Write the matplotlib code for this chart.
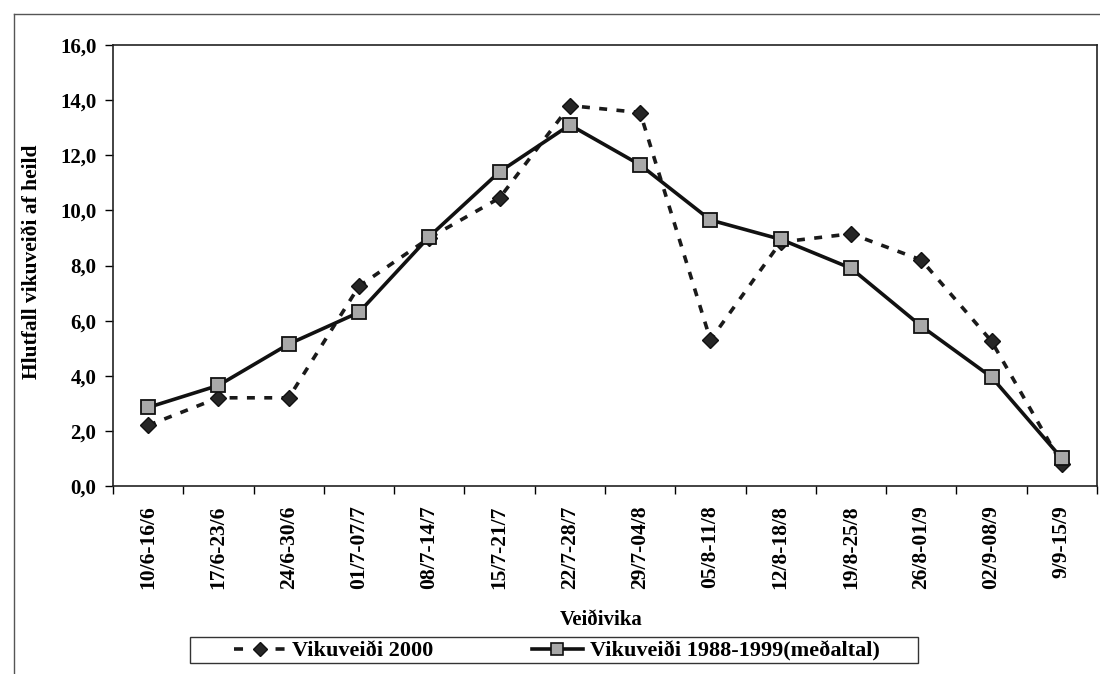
import matplotlib
matplotlib.use("Agg")
import matplotlib.pyplot as plt
from matplotlib.lines import Line2D
from matplotlib.patches import Rectangle
from matplotlib.ticker import FuncFormatter, FixedLocator

weeks = ["10/6-16/6", "17/6-23/6", "24/6-30/6", "01/7-07/7", "08/7-14/7",
         "15/7-21/7", "22/7-28/7", "29/7-04/8", "05/8-11/8", "12/8-18/8",
         "19/8-25/8", "26/8-01/9", "02/9-08/9", "9/9-15/9"]
catch_2000 = [2.2, 3.2, 3.2, 7.25, 9.0, 10.45, 13.8, 13.55, 5.3, 8.85, 9.15, 8.2, 5.25, 0.8]
catch_avg = [2.85, 3.65, 5.15, 6.3, 9.05, 11.4, 13.1, 11.65, 9.65, 8.95, 7.9, 5.8, 3.95, 1.0]
label_2000 = "Vikuveiði 2000"
label_avg = "Vikuveiði 1988-1999(meðaltal)"
y_ticks = [0, 2, 4, 6, 8, 10, 12, 14, 16]

plt.rcParams['font.family'] = ['Liberation Serif', 'DejaVu Serif']

W, H = 1100, 674
fig = plt.figure(figsize=(11, 6.74), dpi=100)
L, R, T, B = 113, 1097, 45, 486
ax = fig.add_axes([L/W, 1-B/H, (R-L)/W, (B-T)/H])

x = list(range(len(weeks)))
ax.plot(x, catch_2000, linestyle=(0, (2.2, 2.6)), color='#1a1a1a', linewidth=2.6,
        marker='D', markersize=8, markerfacecolor='#262626', markeredgecolor='#111111',
        label=label_2000, zorder=3)
ax.plot(x, catch_avg, linestyle='-', color='#111111', linewidth=2.6,
        marker='s', markersize=10.5, markerfacecolor='#a8a8a8', markeredgecolor='#111111',
        markeredgewidth=1.3, label=label_avg, zorder=4)

ax.set_xlim(-0.5, len(weeks) - 0.5)
ax.set_ylim(0, 16)
ax.set_yticks(y_ticks)
ax.yaxis.set_major_formatter(FuncFormatter(lambda v, p: f"{v:.1f}".replace('.', ',')))
ax.set_xticks(x)
ax.set_xticklabels(weeks, rotation=90, fontsize=15.5, fontweight='bold')
ax.xaxis.set_minor_locator(FixedLocator([i - 0.5 for i in range(len(weeks) + 1)]))
ax.tick_params(axis='x', which='major', length=0, pad=14)
ax.tick_params(axis='x', which='minor', length=6, width=1, direction='out')
ax.tick_params(axis='y', which='major', length=6, width=1, direction='out', labelsize=15, pad=6)
for lab in ax.get_yticklabels():
    lab.set_fontweight('bold')

for s in ax.spines.values():
    s.set_linewidth(1.2)
    s.set_color('#222222')

ax.set_ylabel("Hlutfall vikuveiði af heild", fontsize=15.5, fontweight='bold')
ax.yaxis.set_label_coords((42 - L)/(R - L), (B - 262)/(B - T))
ax.set_xlabel("Veiðivika", fontsize=15, fontweight='bold')
ax.xaxis.set_label_coords((601 - L)/(R - L), -(610 - B)/(B - T))
ax.xaxis.label.set_va('top')

# legend box
fig.add_artist(Rectangle((190/W, 1-663/H), (918-190)/W, 26/H, transform=fig.transFigure,
                         fill=False, edgecolor='#333333', linewidth=1.0))
h2000 = Line2D([], [], linestyle=(0, (2.5, 9.0)), color='#1a1a1a', linewidth=2.6,
               marker='D', markersize=7, markerfacecolor='#262626', markeredgecolor='#111111')
havg = Line2D([], [], linestyle='-', color='#111111', linewidth=2.6,
              marker='s', markersize=9, markerfacecolor='#a8a8a8', markeredgecolor='#111111',
              markeredgewidth=1.2)
leg = fig.legend([h2000, havg], [label_2000, label_avg], loc='center left',
                 bbox_to_anchor=(234/W, 1-651/H), ncol=2, frameon=False,
                 prop={'size': 16, 'weight': 'bold'}, handlelength=2.3, handletextpad=0.3,
                 borderpad=0, borderaxespad=0, columnspacing=4.45)

fig.add_artist(Line2D([14/W, 14/W], [0, 1-14/H], transform=fig.transFigure,
                      color='#555555', linewidth=1))
fig.add_artist(Line2D([14/W, 1], [1-14/H, 1-14/H], transform=fig.transFigure,
                      color='#555555', linewidth=1))

fig.savefig("out.png", dpi=100)
